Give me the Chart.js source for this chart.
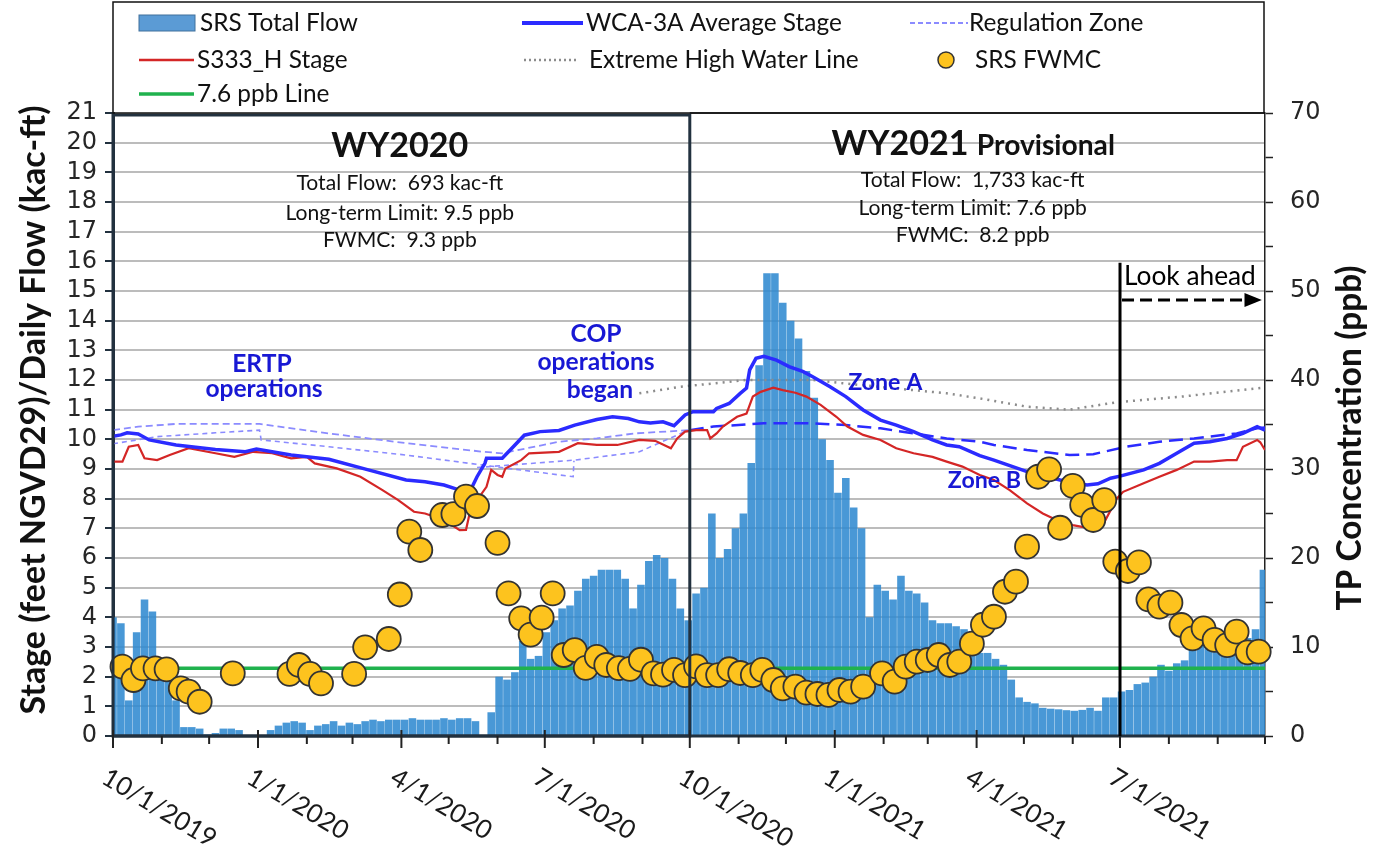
<!DOCTYPE html>
<html>
<head>
<meta charset="utf-8">
<title>SRS flow, stage and FWMC</title>
<script src="https://cdn.jsdelivr.net/npm/chart.js@4.4.1/dist/chart.umd.min.js"></script>
<style>
  html, body { margin: 0; padding: 0; background: #fff; }
  canvas { display: block; }
</style>
</head>
<body>
<canvas id="srsChart" width="1373" height="847"></canvas>
<script>
// all x values are days counted from 10/1/2019

// SRS total flow (kac-ft/day), one value every 5 days starting 10/1/2019
const flowStep = 5;
const flowValues = [
  4.0, 3.8, 1.2, 3.5, 4.6, 4.2, 2.4, 2.2, 1.2, 0.3,
  0.3, 0.25, 0.05, 0.1, 0.25, 0.25, 0.2, 0, 0, 0,
  0.2, 0.35, 0.45, 0.5, 0.45, 0.2, 0.35, 0.4, 0.5, 0.35,
  0.45, 0.4, 0.5, 0.55, 0.5, 0.55, 0.55, 0.55, 0.6, 0.55,
  0.55, 0.55, 0.6, 0.55, 0.6, 0.6, 0.5, 0, 0.8, 2.0,
  1.9, 2.15, 3.2, 2.6, 2.7, 3.5, 3.9, 4.3, 4.4, 4.9,
  5.3, 5.4, 5.6, 5.6, 5.6, 5.3, 4.3, 5.1, 5.9, 6.1,
  6.0, 5.3, 4.3, 3.9, 4.8, 5.0, 7.5, 6.0, 6.3, 7.0,
  7.5, 9.2, 12.5, 15.6, 15.6, 14.6, 14.0, 13.4, 12.3, 11.4,
  10.0, 9.3, 8.2, 8.7, 7.7, 7.0, 4.0, 5.1, 4.9, 4.6,
  5.4, 4.9, 4.8, 4.5, 3.9, 3.8, 3.8, 3.7, 3.6, 3.0,
  2.8, 2.8, 2.6, 2.4, 1.9, 1.3, 1.15, 1.1, 0.95, 0.92,
  0.9, 0.87, 0.85, 0.88, 0.95, 0.85, 1.3, 1.3, 1.5, 1.55,
  1.75, 1.8, 2.0, 2.4, 2.2, 2.45, 2.55, 3.0, 3.1, 3.05,
  3.0, 3.0, 3.2, 3.25, 3.3, 3.6, 5.6
];

// WCA-3A average stage (ft NGVD29)
const wcaDays = [0, 5, 9, 16, 23, 40, 65, 84, 91, 113, 137, 162, 186, 198, 210, 220, 227, 231, 236, 237,
  247, 254, 261, 271, 283, 293, 307, 317, 327, 334, 341, 349, 356, 363, 368, 381, 383, 391, 398, 402,
  404, 408, 413, 421, 429, 438, 444, 455, 465, 476, 487, 497, 508, 520, 529, 537, 550, 559, 580, 601,
  618, 625, 633, 639, 654, 664, 675, 686, 696, 707, 717, 726, 731];
const wcaStage = [10.1, 10.15, 10.22, 10.18, 9.98, 9.81, 9.66, 9.58, 9.67, 9.47, 9.33, 8.97, 8.63, 8.57, 8.46, 8.29, 8.3, 8.74, 9.19, 9.36,
  9.36, 9.75, 10.14, 10.26, 10.3, 10.48, 10.67, 10.76, 10.7, 10.59, 10.55, 10.59, 10.46, 10.82, 10.93, 10.93, 11.04, 11.21, 11.55, 11.73,
  12.34, 12.73, 12.8, 12.67, 12.45, 12.28, 12.11, 11.77, 11.44, 10.99, 10.65, 10.48, 10.26, 9.98, 9.81, 9.75, 9.45, 9.3, 8.91, 8.63,
  8.46, 8.5, 8.69, 8.76, 8.97, 9.19, 9.53, 9.87, 9.92, 10.03, 10.2, 10.43, 10.31];

// S333_H stage (ft NGVD29)
const s333Days = [0, 6, 10, 16, 20, 28, 36, 48, 65, 77, 89, 101, 113, 123, 128, 142, 157, 171, 181, 191,
  198, 210, 220, 224, 227, 231, 237, 240, 244, 247, 249, 259, 264, 283, 295, 307, 320, 334, 344, 354,
  358, 363, 370, 377, 379, 383, 387, 396, 402, 406, 411, 419, 425, 433, 440, 449, 459, 466, 476, 487,
  497, 508, 520, 529, 539, 550, 559, 569, 580, 590, 601, 609, 620, 628, 637, 641, 654, 664, 675, 686,
  696, 707, 713, 717, 726, 728, 731];
const s333Stage = [9.25, 9.25, 9.75, 9.81, 9.36, 9.3, 9.47, 9.7, 9.53, 9.41, 9.58, 9.53, 9.36, 9.41, 9.19, 9.02, 8.74, 8.29, 7.95, 7.56,
  7.5, 7.28, 6.94, 6.95, 7.67, 7.95, 8.4, 8.97, 8.8, 8.74, 9.02, 9.3, 9.53, 9.58, 9.87, 9.81, 9.81, 9.98, 9.95, 9.7,
  10.03, 10.26, 10.31, 10.31, 10.03, 10.2, 10.43, 10.76, 10.87, 11.44, 11.6, 11.74, 11.66, 11.57, 11.44, 11.16, 10.76, 10.43, 10.15, 9.98,
  9.7, 9.53, 9.41, 9.25, 9.08, 8.8, 8.63, 8.29, 7.84, 7.5, 7.22, 7.11, 7.0, 7.1, 8.01, 8.23, 8.52, 8.74, 8.97, 9.25,
  9.25, 9.3, 9.3, 9.75, 9.98, 9.9, 9.64];

// regulation zone lines
const regUpperDays = [0, 16, 40, 93, 137, 186, 235, 247, 283, 307, 331, 366];
const regUpperStage = [10.31, 10.43, 10.52, 10.52, 10.2, 9.87, 9.58, 9.53, 9.92, 10.03, 10.2, 10.31];
const regLowerDays = [0, 28, 65, 93, 94, 137, 186, 235, 292, 292.5];
const regLowerStage = [9.85, 10.09, 10.22, 10.31, 9.98, 9.75, 9.47, 9.13, 8.74, 9.28];
const regMidDays = [231, 293, 334, 363];
const regMidStage = [9.05, 9.3, 9.58, 10.26];
const reg2021Days = [366, 381, 413, 444, 465, 487, 508, 529, 550, 559, 580, 607, 622, 643, 664, 686, 713, 726, 731];
const reg2021Stage = [10.31, 10.43, 10.54, 10.54, 10.48, 10.37, 10.2, 10.03, 9.92, 9.81, 9.64, 9.47, 9.5, 9.75, 9.92, 10.03, 10.2, 10.37, 10.4];

// extreme high water line
const ehwDays = [334, 360, 402, 444, 463, 529, 550, 580, 607, 637, 680, 731];
const ehwStage = [11.55, 11.77, 12.0, 12.0, 11.89, 11.55, 11.38, 11.1, 11.0, 11.25, 11.45, 11.75];

// 7.6 ppb line
const limitDays = [0, 731];
const limitPpb = [7.6, 7.6];

// SRS FWMC (ppb)
const fwmcDays = [6, 13, 19, 27, 34, 43, 48, 55, 76, 112, 118, 125, 132, 153, 160, 175, 182, 188, 195, 209,
  216, 224, 231, 244, 251, 259, 265, 272, 279, 286, 293, 300, 307, 313, 321, 328, 335, 343, 349, 356,
  363, 370, 377, 384, 391, 398, 406, 412, 419, 425, 433, 440, 447, 454, 461, 468, 476, 488, 496, 503,
  510, 517, 524, 531, 537, 545, 552, 559, 566, 573, 580, 587, 594, 601, 609, 615, 622, 629, 636, 644,
  651, 657, 664, 671, 678, 685, 692, 699, 707, 713, 720, 727];
const fwmcPpb = [7.79, 6.29, 7.6, 7.6, 7.49, 5.36, 4.98, 3.85, 7.04, 6.97, 7.98, 6.97, 5.92, 6.97, 9.96, 10.9, 15.9, 22.96, 20.9, 24.83,
  24.94, 26.9, 25.84, 21.7, 16.03, 13.22, 11.4, 13.3, 16.03, 9.1, 9.66, 7.65, 8.9, 7.98, 7.63, 7.55, 8.57, 7.04, 6.9, 7.42,
  6.85, 7.83, 6.85, 6.85, 7.5, 7.08, 6.85, 7.42, 6.29, 5.36, 5.54, 4.87, 4.72, 4.61, 5.17, 4.98, 5.54, 7.04, 6.1, 7.79,
  8.35, 8.54, 9.1, 7.98, 8.35, 10.37, 12.5, 13.4, 16.21, 17.34, 21.27, 29.13, 29.96, 23.4, 28.1, 25.96, 24.27, 26.5, 19.6, 18.54,
  19.5, 15.36, 14.53, 14.98, 12.47, 10.98, 12.1, 10.79, 10.22, 11.72, 9.4, 9.47];

// x axis ticks
const monthDays = [0, 31, 61, 92, 123, 152, 183, 213, 244, 274, 305, 336, 366, 397, 427, 458, 489, 517, 548, 578, 609, 639, 670, 701, 731];
const quarterDays = [0, 92, 183, 274, 366, 458, 548, 639];
const quarterLabels = ['10/1/2019', '1/1/2020', '4/1/2020', '7/1/2020', '10/1/2020', '1/1/2021', '4/1/2021', '7/1/2021'];

const pts = (days, vals) => days.map((d, i) => ({ x: d, y: vals[i] }));

function fitFont(ctx, text, weight, family, width) {
  ctx.font = weight + ' 100px ' + family;
  const size = 100 * width / ctx.measureText(text).width;
  return weight + ' ' + size.toFixed(1) + 'px ' + family;
}

const DARK = '#22313f';
const NOTE_BLUE = '#1818d4';

const overlay = {
  id: 'overlay',
  afterDraw(chart) {
    const { ctx, chartArea: a } = chart;
    const X = d => chart.scales.x.getPixelForValue(d);
    const Y = v => chart.scales.y.getPixelForValue(v);
    ctx.save();

    // thin frame line on top of WY2021 part
    ctx.strokeStyle = '#111';
    ctx.lineWidth = 1.5;
    ctx.beginPath(); ctx.moveTo(X(366), a.top); ctx.lineTo(a.right, a.top); ctx.stroke();

    // WY2020 box + bottom axis
    ctx.strokeStyle = DARK;
    ctx.lineWidth = 3;
    ctx.strokeRect(a.left, a.top + 2, X(366) - a.left, a.bottom - a.top - 2);
    ctx.beginPath(); ctx.moveTo(a.left, a.bottom); ctx.lineTo(a.right, a.bottom); ctx.stroke();

    // x tick marks and rotated labels
    ctx.strokeStyle = '#222';
    ctx.lineWidth = 2;
    monthDays.forEach(d => {
      const major = quarterDays.includes(d);
      ctx.beginPath();
      ctx.moveTo(X(d), major ? a.bottom - 6 : a.bottom);
      ctx.lineTo(X(d), major ? a.bottom + 12 : a.bottom + 8);
      ctx.stroke();
    });
    const tickFont = fitFont(ctx, '10/1/2019', 'normal', 'Lato', 128);
    ctx.fillStyle = '#1a1a1a';
    ctx.font = tickFont;
    ctx.textAlign = 'left';
    ctx.textBaseline = 'top';
    quarterLabels.forEach((lab, i) => {
      ctx.save();
      ctx.translate(X(quarterDays[i]) - 2, a.bottom + 28);
      ctx.rotate(31 * Math.PI / 180);
      ctx.fillText(lab, 0, 0);
      ctx.restore();
    });

    // look ahead line and arrow
    ctx.strokeStyle = '#000';
    ctx.lineWidth = 3;
    ctx.beginPath(); ctx.moveTo(X(639), Y(15.95)); ctx.lineTo(X(639), a.bottom); ctx.stroke();
    const ay = Y(14.7);
    ctx.setLineDash([12, 6]);
    ctx.beginPath(); ctx.moveTo(X(639) + 2, ay); ctx.lineTo(X(718), ay); ctx.stroke();
    ctx.setLineDash([]);
    ctx.fillStyle = '#000';
    ctx.beginPath();
    ctx.moveTo(X(718), ay - 7); ctx.lineTo(X(729), ay); ctx.lineTo(X(718), ay + 7);
    ctx.closePath(); ctx.fill();
    ctx.font = fitFont(ctx, 'Look ahead', 'normal', 'Lato', 132);
    ctx.textBaseline = 'alphabetic';
    ctx.textAlign = 'left';
    ctx.fillText('Look ahead', X(641.5), Y(15.2));

    // water year notes
    ctx.fillStyle = '#111';
    ctx.textAlign = 'center';
    const wyFont = fitFont(ctx, 'WY2020', 'bold', 'Lato', 137);
    const noteFont = fitFont(ctx, 'Total Flow:  693 kac-ft', 'normal', 'Lato', 207);
    ctx.font = wyFont;
    ctx.fillText('WY2020', X(182), Y(19.52));
    ctx.font = noteFont;
    ctx.fillText('Total Flow:  693 kac-ft', X(182), Y(18.4));
    ctx.fillText('Long-term Limit: 9.5 ppb', X(182), Y(17.39));
    ctx.fillText('FWMC:  9.3 ppb', X(182), Y(16.48));

    ctx.textAlign = 'left';
    ctx.font = wyFont;
    ctx.fillText('WY2021', X(456), Y(19.58));
    const w21 = ctx.measureText('WY2021 ').width;
    ctx.font = fitFont(ctx, 'Provisional', 'bold', 'Lato', 138);
    ctx.fillText('Provisional', X(456) + w21, Y(19.58));
    ctx.textAlign = 'center';
    ctx.font = noteFont;
    ctx.fillText('Total Flow:  1,733 kac-ft', X(545.5), Y(18.51));
    ctx.fillText('Long-term Limit: 7.6 ppb', X(545.5), Y(17.56));
    ctx.fillText('FWMC:  8.2 ppb', X(545.5), Y(16.65));

    // blue operation / zone notes
    ctx.fillStyle = NOTE_BLUE;
    ctx.font = fitFont(ctx, 'operations', 'bold', 'Lato', 117);
    ctx.fillText('ERTP', X(94.5), Y(12.27));
    ctx.fillText('operations', X(95.8), Y(11.43));
    ctx.fillText('COP', X(306.5), Y(13.28));
    ctx.fillText('operations', X(306.5), Y(12.34));
    ctx.fillText('began', X(309), Y(11.39));
    ctx.font = fitFont(ctx, 'Zone A', 'bold', 'Lato', 74);
    ctx.fillText('Zone A', X(490), Y(11.66));
    ctx.fillText('Zone B', X(553), Y(8.36));

    // axis titles
    ctx.fillStyle = '#111';
    ctx.textBaseline = 'middle';
    ctx.save();
    ctx.translate(34, 410);
    ctx.rotate(-Math.PI / 2);
    ctx.font = fitFont(ctx, 'Stage (feet NGVD29)/Daily Flow (kac-ft)', 'bold', 'Lato', 610);
    ctx.fillText('Stage (feet NGVD29)/Daily Flow (kac-ft)', 0, 0);
    ctx.restore();
    ctx.save();
    ctx.translate(1350, 438);
    ctx.rotate(-Math.PI / 2);
    ctx.font = fitFont(ctx, 'TP Concentration (ppb)', 'bold', 'Lato', 345);
    ctx.fillText('TP Concentration (ppb)', 0, 0);
    ctx.restore();

    // legend
    ctx.strokeStyle = '#111';
    ctx.lineWidth = 1.5;
    ctx.strokeRect(a.left, 2, a.right - a.left - 1, a.top - 2);
    ctx.font = fitFont(ctx, 'SRS Total Flow', 'normal', 'Lato', 158);
    ctx.textAlign = 'left';
    ctx.textBaseline = 'middle';
    const rows = [23, 60, 94];
    ctx.fillStyle = '#5b9bd5';
    ctx.fillRect(139, rows[0] - 8, 56, 16);
    ctx.strokeStyle = '#41719c'; ctx.lineWidth = 1;
    ctx.strokeRect(139, rows[0] - 8, 56, 16);
    const seg = (x1, x2, yy, color, w, dash) => {
      ctx.strokeStyle = color; ctx.lineWidth = w; ctx.setLineDash(dash || []);
      ctx.beginPath(); ctx.moveTo(x1, yy); ctx.lineTo(x2, yy); ctx.stroke();
      ctx.setLineDash([]);
    };
    seg(522, 583, rows[0], '#2b2bff', 4);
    seg(910, 968, rows[0], '#8b8bff', 2, [5, 3]);
    seg(139, 194, rows[1], '#d42626', 2.5);
    seg(524, 578, rows[1], '#8c8c8c', 2.5, [2, 3]);
    seg(139, 194, rows[2], '#20b24e', 3.5);
    ctx.fillStyle = '#fdc31e';
    ctx.strokeStyle = '#333'; ctx.lineWidth = 1.5;
    ctx.beginPath(); ctx.arc(946, rows[1], 8, 0, 2 * Math.PI); ctx.fill(); ctx.stroke();
    ctx.fillStyle = '#111';
    ctx.fillText('SRS Total Flow', 200, rows[0]);
    ctx.fillText('WCA-3A Average Stage', 586, rows[0]);
    ctx.fillText('Regulation Zone', 969, rows[0]);
    ctx.fillText('S333_H Stage', 197, rows[1]);
    ctx.fillText('Extreme High Water Line', 589, rows[1]);
    ctx.fillText('SRS FWMC', 975, rows[1]);
    ctx.fillText('7.6 ppb Line', 197, rows[2]);

    ctx.restore();
  }
};

const lineStyle = { pointRadius: 0, fill: false, tension: 0 };

new Chart(document.getElementById('srsChart').getContext('2d'), {
  type: 'bar',
  data: {
    datasets: [
      { type: 'line', label: 'SRS FWMC', data: pts(fwmcDays, fwmcPpb), yAxisID: 'y2', showLine: false,
        pointRadius: 12, pointBackgroundColor: '#fdc31e', pointBorderColor: '#333', pointBorderWidth: 1.8,
        order: 0, clip: 14 },
      { type: 'line', label: '7.6 ppb Line', data: pts(limitDays, limitPpb), yAxisID: 'y2',
        borderColor: '#20b24e', borderWidth: 3.5, order: 1, ...lineStyle },
      { type: 'line', label: 'WCA-3A Average Stage', data: pts(wcaDays, wcaStage), yAxisID: 'y',
        borderColor: '#2b2bff', borderWidth: 3.5, order: 2, ...lineStyle },
      { type: 'line', label: 'S333_H Stage', data: pts(s333Days, s333Stage), yAxisID: 'y',
        borderColor: '#d42626', borderWidth: 2.2, order: 3, ...lineStyle },
      { type: 'line', label: 'Regulation Zone', data: pts(reg2021Days, reg2021Stage), yAxisID: 'y',
        borderColor: '#2b2bff', borderWidth: 2.5, borderDash: [14, 7], order: 4, ...lineStyle },
      { type: 'line', label: 'Regulation Zone', data: pts(regUpperDays, regUpperStage), yAxisID: 'y',
        borderColor: '#8b8bff', borderWidth: 1.8, borderDash: [7, 4], order: 5, ...lineStyle },
      { type: 'line', label: 'Regulation Zone', data: pts(regLowerDays, regLowerStage), yAxisID: 'y',
        borderColor: '#8b8bff', borderWidth: 1.6, borderDash: [5, 4], order: 5, ...lineStyle },
      { type: 'line', label: 'Regulation Zone', data: pts(regMidDays, regMidStage), yAxisID: 'y',
        borderColor: '#8b8bff', borderWidth: 1.6, borderDash: [5, 4], order: 5, ...lineStyle },
      { type: 'line', label: 'Extreme High Water Line', data: pts(ehwDays, ehwStage), yAxisID: 'y',
        borderColor: '#8c8c8c', borderWidth: 2.5, borderDash: [2, 5], order: 6, ...lineStyle },
      { type: 'bar', label: 'SRS Total Flow', data: flowValues.map((v, i) => ({ x: i * flowStep, y: v })),
        yAxisID: 'y', backgroundColor: 'rgba(48,138,208,0.88)', borderWidth: 0,
        barPercentage: 0.96, categoryPercentage: 1.0, order: 10 }
    ]
  },
  options: {
    responsive: false,
    animation: false,
    events: [],
    layout: { padding: { top: 113, left: 0, right: 0, bottom: 0 } },
    plugins: { legend: { display: false }, tooltip: { enabled: false } },
    scales: {
      x: {
        type: 'linear', min: 0, max: 731, offset: false,
        ticks: { display: false },
        grid: { display: false },
        border: { display: false },
        afterFit(s) { s.height = 111; }
      },
      y: {
        position: 'left', min: 0, max: 21,
        ticks: { stepSize: 1, autoSkip: false, padding: 8, color: '#262626',
          font: { family: 'DejaVu Sans', size: 24 } },
        grid: {
          color: c => (c.tick && (c.tick.value === 0 || c.tick.value === 21)) ? 'rgba(0,0,0,0)' : '#bcbcbc',
          lineWidth: 2, tickLength: 8, tickColor: DARK, tickWidth: 2
        },
        border: { color: DARK, width: 3 },
        afterFit(s) { s.width = 113; }
      },
      y2: {
        position: 'right', min: 0, max: 70,
        ticks: { stepSize: 5, autoSkip: false, padding: 17, color: '#262626',
          font: { family: 'DejaVu Sans', size: 24 },
          callback: v => (v % 10 === 0 ? v : '') },
        grid: { drawOnChartArea: false, tickLength: 8, tickColor: '#222', tickWidth: 1.5 },
        border: { color: '#222', width: 1.5 },
        afterFit(s) { s.width = 108; }
      }
    }
  },
  plugins: [overlay]
});
</script>
</body>
</html>
